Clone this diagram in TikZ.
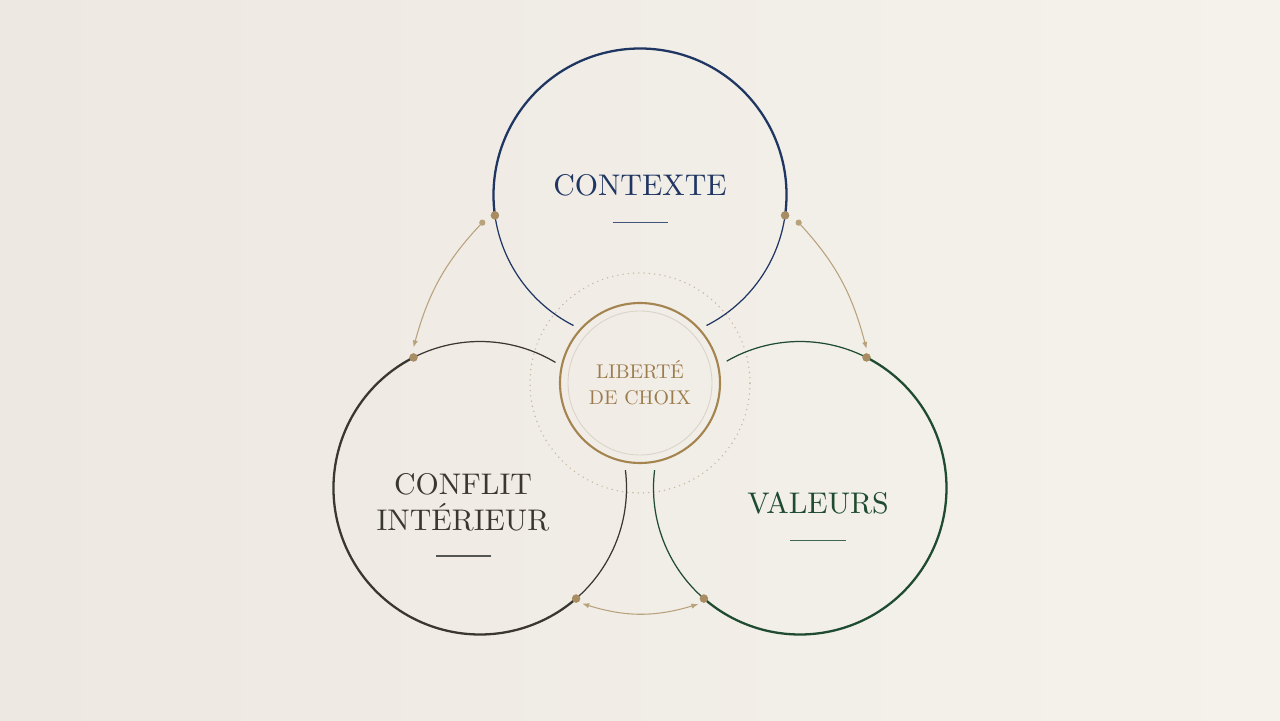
\documentclass[tikz,border=0pt]{standalone}
\usepackage{fontspec}
\newfontfamily\labelfont{lmroman10-regular.otf}
\usetikzlibrary{arrows.meta}
\definecolor{bgl}{HTML}{EDE8E1}
\definecolor{bgr}{HTML}{F5F2EC}
\definecolor{navy}{HTML}{1F3663}
\definecolor{dark}{HTML}{3A3732}
\definecolor{pine}{HTML}{1F4B30}
\definecolor{ringgold}{HTML}{A4844F}
\definecolor{txtgold}{HTML}{9C7C4C}
\definecolor{dotgold}{HTML}{A98D62}
\definecolor{linkgold}{HTML}{B8A27C}
\definecolor{dotring}{HTML}{C4B8A3}
\definecolor{innerring}{HTML}{DAD3C8}
\begin{document}
\begin{tikzpicture}[
  ring/.style={circle,minimum size=5.86cm,inner sep=0pt,outer sep=0pt},
  bold/.style={line width=1.3pt},
  fine/.style={line width=0.7pt},
  joint/.style={draw=dotgold,fill=dotgold},
  link/.style={linkgold,line width=0.6pt,{Circle[length=3.5pt]}-{Latex[length=4pt,width=3pt]}},
  title/.style={font=\labelfont\fontsize{17}{20.4}\selectfont,align=center,inner sep=0pt},
  small/.style={font=\labelfont\fontsize{11.3}{14.6}\selectfont,align=center,inner sep=0pt}
]
%\draw[step=1cm,gray,very thin] (0,0) grid (25.6,14.4);
\useasboundingbox (0,0) rectangle (25.6,14.4);
\shade[left color=bgl,right color=bgr] (0,0) rectangle (25.6,14.4);

\node[ring] (ctx) at (12.8,10.5) {};
\node[ring] (cfl) at (9.6,4.64)  {};
\node[ring] (val) at (16.0,4.64) {};
\node[circle,minimum size=3.2cm,inner sep=0pt,draw=ringgold,line width=1.2pt] (lib) at (12.8,6.74) {};
\draw[innerring,line width=0.5pt] (lib) circle (1.44);
\draw[dotring,line width=0.9pt,dash pattern=on 0pt off 3pt,line cap=round] (lib) circle (2.2);

\draw[navy,bold] (ctx.-8)  arc[start angle=-8,end angle=188,radius=2.93];
\draw[navy,fine] (ctx.188) arc[start angle=188,end angle=243,radius=2.93];
\draw[navy,fine] (ctx.-8)  arc[start angle=-8,end angle=-63,radius=2.93];

\draw[dark,bold] (cfl.117) arc[start angle=117,end angle=311,radius=2.93];
\draw[dark,fine] (cfl.117) arc[start angle=117,end angle=59,radius=2.93];
\draw[dark,fine] (cfl.-49) arc[start angle=-49,end angle=7,radius=2.93];

\draw[pine,bold] (val.229) arc[start angle=229,end angle=423,radius=2.93];
\draw[pine,fine] (val.63)  arc[start angle=63,end angle=120,radius=2.93];
\draw[pine,fine] (val.229) arc[start angle=229,end angle=173,radius=2.93];

\draw[link] ([shift={(-0.21,-0.1)}]ctx.188) to[bend right=14] ([yshift=0.2cm]cfl.117);
\draw[link] ([shift={(0.23,-0.1)}]ctx.-8) to[bend left=14] ([yshift=0.17cm]val.63);
\draw[link,{Latex[length=4pt,width=3pt]}-{Latex[length=4pt,width=3pt]}] ([shift={(0.12,-0.1)}]cfl.-49) to[bend right=17] ([shift={(-0.11,-0.11)}]val.229);

\draw[joint] (ctx.188) circle (2.2pt);
\draw[joint] (ctx.-8)  circle (2.2pt);
\draw[joint] (cfl.117) circle (2.2pt);
\draw[joint] (cfl.-49) circle (2.2pt);
\draw[joint] (val.63)  circle (2.2pt);
\draw[joint] (val.229) circle (2.2pt);

\node[title,text=navy] (ctxtxt) at (12.8,10.70) {CONTEXTE};
\node[title,text=dark] (cfltxt) at (9.26,4.35)  {CONFLIT\\INTÉRIEUR};
\node[title,text=pine] (valtxt) at (16.36,4.33) {VALEURS};
\node[small,text=txtgold] (libtxt) at (lib) {LIBERTÉ\\DE CHOIX};

\draw[navy!85,line width=0.6pt] (12.25,9.95) -- (13.35,9.95);
\draw[dark!85,line width=0.6pt] (8.72,3.28)  -- (9.82,3.28);
\draw[pine!85,line width=0.6pt] (15.8,3.59)  -- (16.91,3.59);
\end{tikzpicture}
\end{document}
